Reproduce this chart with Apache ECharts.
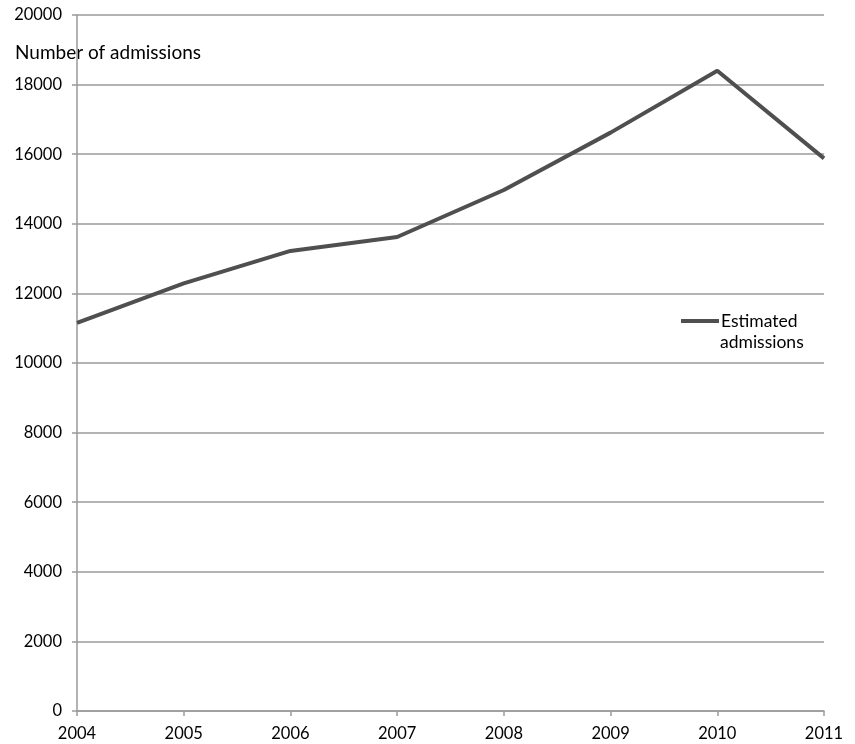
<!DOCTYPE html>
<html>
<head>
<meta charset="utf-8">
<script src="https://cdn.jsdelivr.net/npm/echarts@6/dist/echarts.min.js"></script>
<style>
    html, body { margin: 0; padding: 0; background: #fff; }
    #chart { width: 855px; height: 744px; }
</style>
</head>
<body>
<div id="chart"></div>
<script>
// 数据
const years = ['2004', '2005', '2006', '2007', '2008', '2009', '2010', '2011'];
const admissions = [11150, 12290, 13220, 13620, 14970, 16620, 18400, 15880];

const FONT = 'Lato, "Open Sans", sans-serif';
const GRID_COLOR = '#9a9a9a';
const LINE_COLOR = '#4f4f4f';

const chart = echarts.init(document.getElementById('chart'));
chart.setOption({
    animation: false,
    grid: { left: 77, right: 31, top: 15, bottom: 33 },
    xAxis: {
        type: 'category',
        data: years,
        boundaryGap: false,
        axisLine: { lineStyle: { color: GRID_COLOR, width: 1.5 } },
        axisTick: { show: true, length: 5, lineStyle: { color: GRID_COLOR, width: 1.5 } },
        axisLabel: { color: '#000', fontFamily: FONT, fontSize: 16.5, margin: 14 },
        splitLine: { show: false }
    },
    yAxis: {
        type: 'value',
        min: 0,
        max: 20000,
        interval: 2000,
        axisLine: { show: true, lineStyle: { color: GRID_COLOR, width: 1.5 } },
        axisTick: { show: true, length: 5, lineStyle: { color: GRID_COLOR, width: 1.5 } },
        axisLabel: { color: '#000', fontFamily: FONT, fontSize: 16.5, margin: 15, formatter: v => String(v) },
        splitLine: { show: true, lineStyle: { color: GRID_COLOR, width: 1.5 } }
    },
    legend: {
        left: 676,
        top: 307,
        icon: 'rect',
        itemWidth: 38,
        itemHeight: 4,
        itemGap: 4,
        textStyle: { fontFamily: FONT, fontSize: 17.5, color: '#000', padding: [0, 0, 0, -3] },
        data: [{ name: 'Estimated' }]
    },
    graphic: [{
        type: 'text',
        left: 15,
        top: 43,
        style: { text: 'Number of admissions', fontFamily: FONT, fontSize: 19, fill: '#000' }
    }, {
        // 图例第二行
        type: 'text',
        left: 720,
        top: 333,
        style: { text: 'admissions', fontFamily: FONT, fontSize: 17.5, fill: '#000' }
    }],
    series: [{
        name: 'Estimated',
        type: 'line',
        data: admissions,
        symbol: 'none',
        lineStyle: { color: LINE_COLOR, width: 4 },
        itemStyle: { color: LINE_COLOR }
    }]
});
</script>
</body>
</html>
